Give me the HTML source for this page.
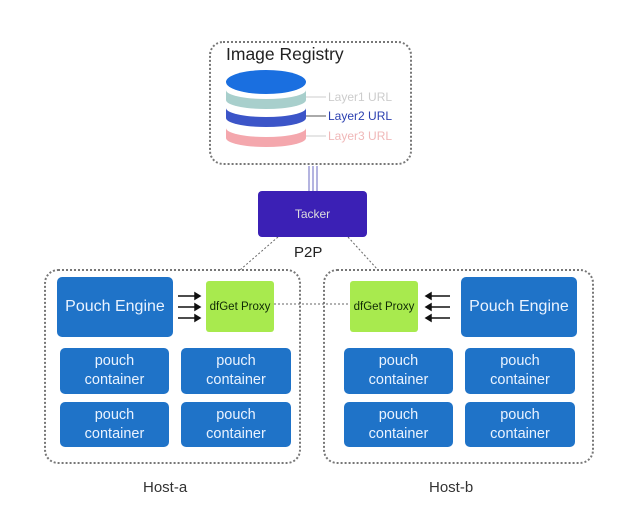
<!DOCTYPE html><html><head><style>
body{margin:0;width:640px;height:513px;background:#fff;position:relative;font-family:"Liberation Sans",sans-serif;overflow:hidden}
.a{position:absolute;box-sizing:border-box}
.dash{border:2px dotted #777;border-radius:14px}
.b{background:#1f73c8;color:#eaf3ff;border-radius:5px;display:flex;align-items:center;justify-content:center;text-align:center}
.c{font-size:14.5px;line-height:19px}
.g{background:#a8ea4e;color:#0f2a05;font-size:11.5px;border-radius:3px;display:flex;align-items:center;justify-content:center}
</style></head><body>
<div class="a dash" style="left:209px;top:41px;width:203px;height:124px"></div>
<div class="a" style="left:226px;top:44px;font-size:17.5px;color:#222">Image Registry</div>
<svg class="a" style="left:0;top:0" width="640" height="513">
<ellipse cx="266" cy="138" rx="40" ry="9" fill="#f4a7ad"/>
<rect x="226" y="128" width="80" height="10" fill="#f4a7ad"/>
<ellipse cx="266" cy="128" rx="40" ry="9" fill="#fff"/>
<ellipse cx="266" cy="118" rx="40" ry="9" fill="#3c55c8"/>
<rect x="226" y="108" width="80" height="10" fill="#3c55c8"/>
<ellipse cx="266" cy="108" rx="40" ry="9" fill="#fff"/>
<ellipse cx="266" cy="100" rx="40" ry="9" fill="#a8cfcc"/>
<rect x="226" y="90" width="80" height="10" fill="#a8cfcc"/>
<ellipse cx="266" cy="90" rx="40" ry="9" fill="#fff"/>
<ellipse cx="266" cy="82" rx="40" ry="12" fill="#1a6fe0"/>
<line x1="306" y1="97" x2="326" y2="97" stroke="#ccc"/>
<line x1="306" y1="116" x2="326" y2="116" stroke="#555"/>
<line x1="306" y1="136" x2="326" y2="136" stroke="#ccc"/>
<line x1="309" y1="166" x2="309" y2="191" stroke="#6a6ac0"/>
<line x1="313" y1="166" x2="313" y2="191" stroke="#6a6ac0"/>
<line x1="317" y1="166" x2="317" y2="191" stroke="#6a6ac0"/>
<line x1="278" y1="237" x2="240" y2="270" stroke="#666" stroke-dasharray="2,2"/>
<line x1="348" y1="237" x2="378" y2="270" stroke="#666" stroke-dasharray="2,2"/>
<line x1="274" y1="304" x2="350" y2="304" stroke="#666" stroke-dasharray="2,2"/>
<g stroke="#111" stroke-width="1.5" fill="#111">
<line x1="178" y1="296" x2="196" y2="296"/><path d="M200 296l-5-3v6z"/>
<line x1="178" y1="307" x2="196" y2="307"/><path d="M200 307l-5-3v6z"/>
<line x1="178" y1="318" x2="196" y2="318"/><path d="M200 318l-5-3v6z"/>
<line x1="430" y1="296" x2="450" y2="296"/><path d="M426 296l5-3v6z"/>
<line x1="430" y1="307" x2="450" y2="307"/><path d="M426 307l5-3v6z"/>
<line x1="430" y1="318" x2="450" y2="318"/><path d="M426 318l5-3v6z"/>
</g>
</svg>
<div class="a" style="left:328px;top:90px;font-size:12px;color:#ccc">Layer1 URL</div>
<div class="a" style="left:328px;top:109px;font-size:12px;color:#2a3fb0">Layer2 URL</div>
<div class="a" style="left:328px;top:129px;font-size:12px;color:#f0b8b8">Layer3 URL</div>
<div class="a" style="left:258px;top:191px;width:109px;height:46px;background:#3b20b5;border-radius:4px;color:#ddd;font-size:12px;display:flex;align-items:center;justify-content:center">Tacker</div>
<div class="a" style="left:294px;top:244px;font-size:15px;color:#222">P2P</div>
<div class="a dash" style="left:44px;top:269px;width:257px;height:195px"></div>
<div class="a dash" style="left:323px;top:269px;width:271px;height:195px"></div>
<div class="a b" style="left:57px;top:277px;width:116px;height:60px;font-size:16px">Pouch Engine</div>
<div class="a g" style="left:206px;top:281px;width:68px;height:51px">dfGet Proxy</div>
<div class="a b c" style="left:60px;top:348px;width:109px;height:46px">pouch<br>container</div>
<div class="a b c" style="left:181px;top:348px;width:110px;height:46px">pouch<br>container</div>
<div class="a b c" style="left:60px;top:402px;width:109px;height:45px">pouch<br>container</div>
<div class="a b c" style="left:181px;top:402px;width:110px;height:45px">pouch<br>container</div>
<div class="a b" style="left:461px;top:277px;width:116px;height:60px;font-size:16px">Pouch Engine</div>
<div class="a g" style="left:350px;top:281px;width:68px;height:51px">dfGet Proxy</div>
<div class="a b c" style="left:344px;top:348px;width:109px;height:46px">pouch<br>container</div>
<div class="a b c" style="left:465px;top:348px;width:110px;height:46px">pouch<br>container</div>
<div class="a b c" style="left:344px;top:402px;width:109px;height:45px">pouch<br>container</div>
<div class="a b c" style="left:465px;top:402px;width:110px;height:45px">pouch<br>container</div>
<div class="a" style="left:143px;top:479px;font-size:15px;color:#333">Host-a</div>
<div class="a" style="left:429px;top:479px;font-size:15px;color:#333">Host-b</div>
</body></html>
